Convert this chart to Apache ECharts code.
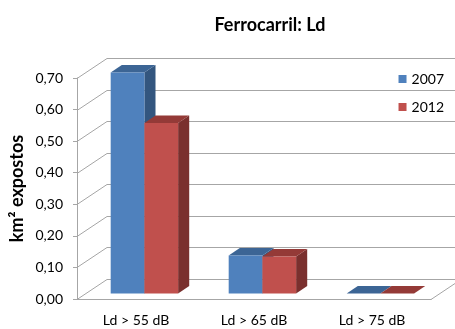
<!DOCTYPE html>
<html>
<head>
<meta charset="utf-8">
<script src="https://cdn.jsdelivr.net/npm/echarts@6/dist/echarts.min.js"></script>
<style>
  html, body { margin: 0; padding: 0; background: #fff; }
  #chart { width: 455px; height: 329px; }
</style>
</head>
<body>
<div id="chart"></div>
<script>
// Exposed area (km²) to railway noise, Ld indicator
const categories = ['Ld > 55 dB', 'Ld > 65 dB', 'Ld > 75 dB'];
const years = ['2007', '2012'];
const values2007 = [0.70, 0.12, 0.00];
const values2012 = [0.54, 0.117, 0.00];
const yTicks = [0, 0.1, 0.2, 0.3, 0.4, 0.5, 0.6, 0.7];

// 3D look: depth offset of the back wall and the depth span of the bars
const DEPTH_X = 30, DEPTH_Y = -20;
const BAR_FRONT = 0.28, BAR_BACK = 0.65;
const GRID_COLOR = '#A6A6A6';
const FONT = 'Lato';

const palette = {
  '2007': { front: '#4F81BD', top: '#3C6595', side: '#33567F' },
  '2012': { front: '#C0504D', top: '#943A37', side: '#7A302E' }
};

const chart = echarts.init(document.getElementById('chart'), null, { renderer: 'canvas' });

// Walls and floor of the 3D box, drawn from the value-axis ticks
function renderWalls(params, api) {
  const cs = params.coordSys;
  const left = cs.x, right = cs.x + cs.width;
  const children = [];
  const ls = { stroke: GRID_COLOR, lineWidth: 1 };
  yTicks.forEach(function (t) {
    const y = Math.round(api.coord([0, t])[1]) + 0.5;
    // side wall diagonal
    children.push({ type: 'line', shape: { x1: left, y1: y, x2: left + DEPTH_X, y2: y + DEPTH_Y }, style: ls, silent: true });
    // back wall gridline
    children.push({ type: 'line', shape: { x1: left + DEPTH_X, y1: y + DEPTH_Y, x2: right + DEPTH_X, y2: y + DEPTH_Y }, style: ls, silent: true });
  });
  // floor right edge
  const y0 = Math.round(api.coord([0, 0])[1]) + 0.5;
  children.push({ type: 'line', shape: { x1: right, y1: y0, x2: right + DEPTH_X, y2: y0 + DEPTH_Y }, style: ls, silent: true });
  return { type: 'group', children: children };
}

function makeBarRenderer(seriesIndex, year) {
  const col = palette[year];
  return function (params, api) {
    const idx = api.value(0);
    const val = api.value(1);
    const center = api.coord([idx, 0])[0];
    const band = api.size([1, 0])[0];
    const w = band / 3.5;               // gap width 150% of bar width
    const x = center - w + seriesIndex * w;
    const yb = api.coord([idx, 0])[1];
    const yt = api.coord([idx, val])[1];
    const fx = DEPTH_X * BAR_FRONT, fy = DEPTH_Y * BAR_FRONT;
    const bx = DEPTH_X * BAR_BACK, by = DEPTH_Y * BAR_BACK;
    const children = [];
    // side face
    children.push({
      type: 'polygon',
      shape: { points: [[x + w + fx, yt + fy], [x + w + bx, yt + by], [x + w + bx, yb + by], [x + w + fx, yb + fy]] },
      style: { fill: col.side }
    });
    // top face
    children.push({
      type: 'polygon',
      shape: { points: [[x + fx, yt + fy], [x + w + fx, yt + fy], [x + w + bx, yt + by], [x + bx, yt + by]] },
      style: { fill: col.top }
    });
    // front face
    if (yb - yt > 0) {
      children.push({
        type: 'rect',
        shape: { x: x + fx, y: yt + fy, width: w, height: yb - yt },
        style: { fill: col.front }
      });
    }
    return { type: 'group', children: children };
  };
}

const option = {
  animation: false,
  backgroundColor: '#fff',
  textStyle: { fontFamily: FONT },
  title: {
    text: 'Ferrocarril: Ld',
    left: 265,
    top: 11,
    textAlign: 'center',
    textStyle: { fontFamily: FONT, fontSize: 18, fontWeight: 'bold', color: '#000' }
  },
  legend: {
    data: years,
    orient: 'vertical',
    right: 6,
    top: 67,
    icon: 'rect',
    itemWidth: 8,
    itemHeight: 8,
    itemGap: 14,
    textStyle: { fontFamily: FONT, fontSize: 14, color: '#000' }
  },
  grid: { left: 77, right: 24, top: 78, bottom: 30, containLabel: false, outerBoundsMode: 'none' },
  xAxis: {
    type: 'category',
    data: categories,
    axisLine: { show: true, lineStyle: { color: GRID_COLOR, width: 1 } },
    axisTick: { show: false },
    axisLabel: { margin: 14, fontFamily: FONT, fontSize: 14, color: '#000' },
    splitLine: { show: false }
  },
  yAxis: {
    type: 'value',
    min: 0,
    max: 0.7,
    interval: 0.1,
    name: 'km² expostos',
    nameLocation: 'middle',
    nameRotate: 90,
    nameGap: 51,
    nameMoveOverlap: false,
    nameTextStyle: { fontFamily: FONT, fontSize: 18, fontWeight: 'bold', color: '#000' },
    axisLine: { show: true, lineStyle: { color: GRID_COLOR, width: 1 } },
    axisTick: { show: true, length: 4, lineStyle: { color: GRID_COLOR } },
    axisLabel: {
      margin: 14,
      fontFamily: FONT,
      fontSize: 14,
      color: '#000',
      formatter: function (v) { return v.toFixed(2).replace('.', ','); }
    },
    splitLine: { show: false }
  },
  series: [
    {
      type: 'custom',
      name: 'walls',
      clip: false,
      silent: true,
      z: 1,
      renderItem: renderWalls,
      data: [[0, 0]]
    },
    {
      type: 'custom',
      name: years[0],
      clip: false,
      z: 2,
      itemStyle: { color: palette['2007'].front },
      renderItem: makeBarRenderer(0, '2007'),
      data: values2007.map(function (v, i) { return [i, v]; })
    },
    {
      type: 'custom',
      name: years[1],
      clip: false,
      z: 3,
      itemStyle: { color: palette['2012'].front },
      renderItem: makeBarRenderer(1, '2012'),
      data: values2012.map(function (v, i) { return [i, v]; })
    }
  ]
};

chart.setOption(option);
</script>
</body>
</html>
